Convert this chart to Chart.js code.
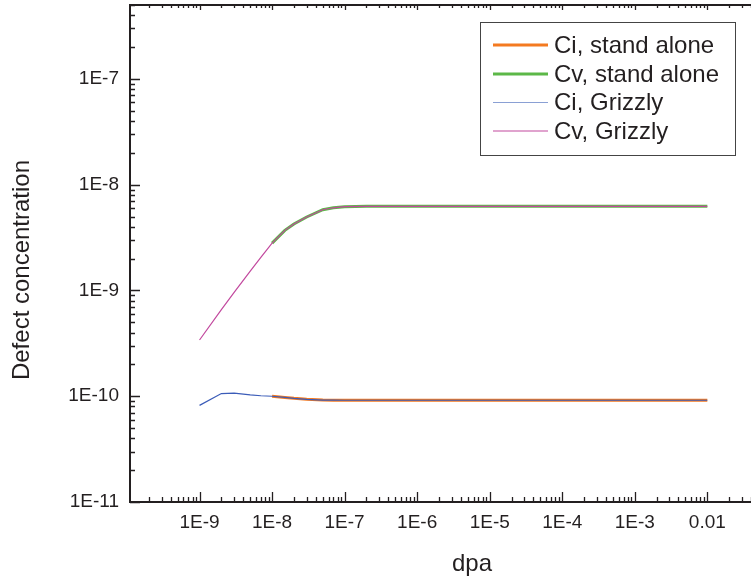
<!DOCTYPE html>
<html><head><meta charset="utf-8">
<script src="https://cdn.jsdelivr.net/npm/chart.js@4.4.0/dist/chart.umd.min.js"></script>
<style>html,body{margin:0;padding:0;background:#fff}#wrap{width:751px;height:577px}</style>
</head><body><div id="wrap"><canvas id="c" width="751" height="577"></canvas></div>
<script>
// ---- data ----
const dpaGrizzly = [1e-9, 2e-9, 3e-9, 5e-9, 7e-9, 1e-8, 1.5e-8, 2e-8, 3e-8, 5e-8, 7e-8, 1e-7, 2e-7, 1e-6, 1e-5, 1e-4, 1e-3, 1e-2];
const ciGrizzly  = [8.2e-11, 1.06e-10, 1.07e-10, 1.03e-10, 1.01e-10, 1.0e-10, 9.75e-11, 9.55e-11, 9.35e-11, 9.2e-11, 9.17e-11, 9.16e-11, 9.16e-11, 9.16e-11, 9.16e-11, 9.16e-11, 9.16e-11, 9.16e-11];
const cvGrizzly  = [3.4e-10, 6.6e-10, 9.6e-10, 1.52e-9, 2.05e-9, 2.8e-9, 3.7e-9, 4.25e-9, 4.95e-9, 5.8e-9, 6.05e-9, 6.2e-9, 6.25e-9, 6.25e-9, 6.25e-9, 6.25e-9, 6.25e-9, 6.25e-9];
const dpaStand   = [1e-8, 1.5e-8, 2e-8, 3e-8, 5e-8, 7e-8, 1e-7, 2e-7, 1e-6, 1e-5, 1e-4, 1e-3, 1e-2];
const ciStand    = [1.0e-10, 9.75e-11, 9.55e-11, 9.35e-11, 9.2e-11, 9.17e-11, 9.16e-11, 9.16e-11, 9.16e-11, 9.16e-11, 9.16e-11, 9.16e-11, 9.16e-11];
const cvStand    = [2.8e-9, 3.7e-9, 4.25e-9, 4.95e-9, 5.8e-9, 6.05e-9, 6.2e-9, 6.25e-9, 6.25e-9, 6.25e-9, 6.25e-9, 6.25e-9, 6.25e-9];
const seriesLabels = ['Ci, stand alone', 'Cv, stand alone', 'Ci, Grizzly', 'Cv, Grizzly'];
const xTickValues = [1e-9, 1e-8, 1e-7, 1e-6, 1e-5, 1e-4, 1e-3, 1e-2];
const xTickLabels = ['1E-9', '1E-8', '1E-7', '1E-6', '1E-5', '1E-4', '1E-3', '0.01'];
const yTickValues = [1e-11, 1e-10, 1e-9, 1e-8, 1e-7];
const yTickLabels = ['1E-11', '1E-10', '1E-9', '1E-8', '1E-7'];
const xTitle = 'dpa';
const yTitle = 'Defect concentration';

const toPts = (xs, ys) => xs.map((x, i) => ({x: x, y: ys[i]}));
const FONT = "'Liberation Sans', Arial, sans-serif";
const INK = '#231f20';

const axesPlugin = {
  id: 'axesPlugin',
  afterDatasetsDraw(chart) {
    const ctx = chart.ctx;
    const a = chart.chartArea;
    const xs = chart.scales.x, ys = chart.scales.y;
    ctx.save();
    ctx.strokeStyle = INK;
    const lx = Math.log10(xs.min), hx = Math.log10(xs.max);
    ctx.lineWidth = 1.3;
    ctx.beginPath();
    for (let d = Math.floor(lx); d <= Math.ceil(hx); d++) {
      for (let m = 1; m <= 9; m++) {
        const v = m * Math.pow(10, d);
        if (v < xs.min * 1.0001 || v > xs.max * 1.0001) continue;
        const p = Math.round(xs.getPixelForValue(v)) + 0.5;
        const len = m === 1 ? 10 : 5;
        ctx.moveTo(p, a.bottom); ctx.lineTo(p, a.bottom - len);
        const tl = m === 1 ? 5 : 3;
        ctx.moveTo(p, a.top); ctx.lineTo(p, a.top + tl);
      }
    }
    const ly = Math.log10(ys.min), hy = Math.log10(ys.max);
    for (let d = Math.floor(ly); d <= Math.ceil(hy); d++) {
      for (let m = 1; m <= 9; m++) {
        const v = m * Math.pow(10, d);
        if (v < ys.min * 0.9999 || v > ys.max * 1.0001) continue;
        const p = Math.round(ys.getPixelForValue(v)) + 0.5;
        const len = m === 1 ? 10 : 5;
        ctx.moveTo(a.left, p); ctx.lineTo(a.left + len, p);
      }
    }
    ctx.stroke();
    ctx.lineWidth = 2;
    ctx.beginPath();
    ctx.moveTo(a.left, a.top); ctx.lineTo(a.left, a.bottom + 1);
    ctx.moveTo(a.left - 1, a.bottom); ctx.lineTo(a.right, a.bottom);
    ctx.moveTo(a.left - 1, a.top); ctx.lineTo(a.right, a.top);
    ctx.stroke();
    // axis titles
    ctx.fillStyle = INK;
    ctx.font = '24px ' + FONT;
    ctx.textAlign = 'center';
    ctx.textBaseline = 'middle';
    ctx.fillText(xTitle, 472, 564);
    ctx.save();
    ctx.translate(22, 270);
    ctx.rotate(-Math.PI / 2);
    ctx.fillText(yTitle, 0, 0);
    ctx.restore();
    // legend
    const bx = 480.5, by = 22.5, bw = 255, bh = 133;
    ctx.fillStyle = '#fff';
    ctx.fillRect(bx, by, bw, bh);
    ctx.lineWidth = 1;
    ctx.strokeStyle = '#444';
    ctx.strokeRect(bx, by, bw, bh);
    ctx.textAlign = 'left';
    const rows = [45, 74, 102.5, 131];
    chart.data.datasets.forEach((ds, i) => {
      const yy = rows[i];
      ctx.strokeStyle = ds.legendColor || ds.borderColor;
      ctx.lineWidth = ds.borderWidth;
      ctx.beginPath();
      ctx.moveTo(493, yy); ctx.lineTo(548, yy);
      ctx.stroke();
      ctx.fillStyle = INK;
      ctx.fillText(ds.label, 554, yy + 1);
    });
    ctx.restore();
  }
};

new Chart(document.getElementById('c'), {
  type: 'scatter',
  data: {
    datasets: [
      {label: seriesLabels[0], data: toPts(dpaStand, ciStand), borderColor: '#f47a20', borderWidth: 3, showLine: true, pointRadius: 0, tension: 0, order: 2},
      {label: seriesLabels[1], data: toPts(dpaStand, cvStand), borderColor: '#5cb848', borderWidth: 3, showLine: true, pointRadius: 0, tension: 0, order: 2},
      {label: seriesLabels[2], data: toPts(dpaGrizzly, ciGrizzly), borderColor: '#3b5cb8', legendColor: '#8aa0d4', borderWidth: 1.2, showLine: true, pointRadius: 0, tension: 0, order: 1},
      {label: seriesLabels[3], data: toPts(dpaGrizzly, cvGrizzly), borderColor: '#c2489e', borderWidth: 1.2, showLine: true, pointRadius: 0, tension: 0, order: 1}
    ]
  },
  options: {
    responsive: false,
    animation: false,
    layout: {padding: {top: 5, right: 0, left: 0, bottom: 0}},
    plugins: {legend: {display: false}, tooltip: {enabled: false}},
    scales: {
      x: {
        type: 'logarithmic', min: 1.1e-10, max: 0.04,
        grid: {display: false, drawTicks: false}, border: {display: false},
        afterBuildTicks: s => { s.ticks = xTickValues.map(v => ({value: v})); },
        afterFit: s => { s.height = 75; s.paddingLeft = 0; s.paddingRight = 0; },
        ticks: {autoSkip: false, maxRotation: 0, padding: 9, color: INK, font: {family: FONT, size: 19},
          callback: (v) => { const i = xTickValues.findIndex(t => Math.abs(t - v) / t < 1e-6); return i >= 0 ? xTickLabels[i] : ''; }},
        title: {display: false}
      },
      y: {
        type: 'logarithmic', min: 1e-11, max: 5e-7,
        grid: {display: false, drawTicks: false}, border: {display: false},
        afterBuildTicks: s => { s.ticks = yTickValues.map(v => ({value: v})); },
        afterFit: s => { s.width = 130; s.paddingTop = 0; s.paddingBottom = 0; },
        ticks: {autoSkip: false, padding: 11, color: INK, font: {family: FONT, size: 19},
          callback: (v) => { const i = yTickValues.findIndex(t => Math.abs(t - v) / t < 1e-6); return i >= 0 ? yTickLabels[i] : ''; }},
        title: {display: false}
      }
    }
  },
  plugins: [axesPlugin]
});
</script></body></html>
